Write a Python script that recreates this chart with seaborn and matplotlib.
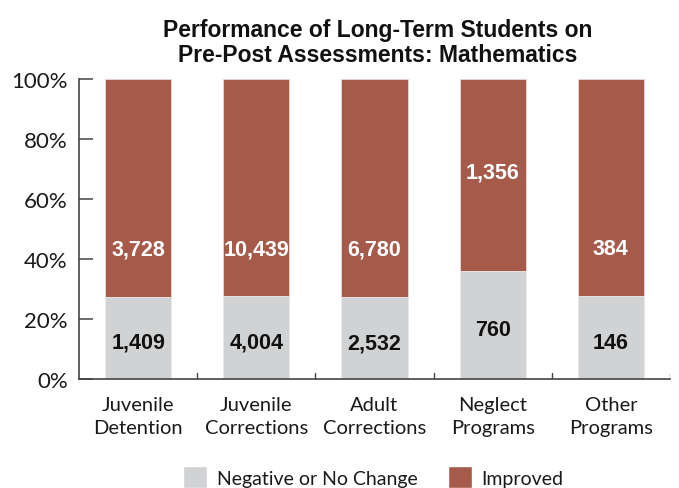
import matplotlib
matplotlib.use("Agg")
import matplotlib.pyplot as plt
import matplotlib.font_manager as fm
import seaborn as sns
import pandas as pd
import numpy as np
from matplotlib.patches import Patch

categories = ["Juvenile\nDetention", "Juvenile\nCorrections", "Adult\nCorrections", "Neglect\nPrograms", "Other\nPrograms"]
negative = [1409, 4004, 2532, 760, 146]
improved = [3728, 10439, 6780, 1356, 384]
improved_label_pct = [43.5, 43.5, 43.5, 69, 43.5]
yticks = [0, 20, 40, 60, 80, 100]

GREY = "#D1D2D4"
RED = "#A65A4A"
TXT = "#1a1a1a"

sns.set_theme(style="white")
names = {f.name for f in fm.fontManager.ttflist}
light_family = "Lato" if "Lato" in names else "DejaVu Sans"
title_family = "Liberation Sans Narrow" if "Liberation Sans Narrow" in names else "Liberation Sans"
plt.rcParams["font.family"] = [light_family, "DejaVu Sans"]

total = np.array(negative) + np.array(improved)
neg_pct = np.array(negative) / total * 100
tot_pct = (np.array(negative) + np.array(improved)) / total * 100
df = pd.DataFrame({"cat": categories, "neg": neg_pct, "tot": tot_pct})

fig = plt.figure(figsize=(6.79, 4.89), dpi=100)
ax = fig.add_axes([0.1163, 0.2229, 0.8704, 0.6135])

sns.barplot(data=df, x="cat", y="tot", color=RED, saturation=1, width=0.56, ax=ax,
            edgecolor="#e8d8d4", linewidth=0.6)
sns.barplot(data=df, x="cat", y="neg", color=GREY, saturation=1, width=0.56, ax=ax,
            edgecolor="#eeeeee", linewidth=0.6)

ax.set_xlim(-0.5, len(categories) - 0.5)
ax.set_ylim(0, 100)
ax.set_yticks(yticks)
ax.set_yticklabels([f"{t}%" for t in yticks], fontsize=16, fontweight="normal", color=TXT)
ax.set_xticks(range(len(categories)))
ax.set_xticklabels(categories, fontsize=14.5, fontweight="normal", color=TXT, linespacing=1.45)
ax.tick_params(axis="x", length=0, pad=12)
ax.tick_params(axis="y", direction="in", length=10, width=1.1, color="#444444", pad=8, left=True)
for b in np.arange(0.5, len(categories), 1.0):
    ax.axvline(b, ymin=0, ymax=0.02, color="#444444", lw=1.0)
ax.set_xlabel("")
ax.set_ylabel("")
for s in ["top", "right"]:
    ax.spines[s].set_visible(False)
for s in ["left", "bottom"]:
    ax.spines[s].set_color("#444444")
    ax.spines[s].set_linewidth(1.2)

for i in range(len(categories)):
    ax.text(i, neg_pct[i] / 2 - 1.5, f"{negative[i]:,}", ha="center", va="center",
            fontsize=15.5, fontweight="bold", color="#111111", family=["Liberation Sans", "DejaVu Sans"])
    ax.text(i, improved_label_pct[i], f"{improved[i]:,}", ha="center", va="center",
            fontsize=15.5, fontweight="bold", color="white", family=["Liberation Sans", "DejaVu Sans"])

fig.text(0.556, 0.962, "Performance of Long-Term Students on\nPre-Post Assessments: Mathematics",
         ha="center", va="top", fontsize=16.5, fontweight="bold", color="#111111",
         family=[title_family, "DejaVu Sans"], linespacing=1.15)

handles = [Patch(facecolor=GREY, label="Negative or No Change"), Patch(facecolor=RED, label="Improved")]
fig.legend(handles=handles, loc="lower center", bbox_to_anchor=(0.55, -0.035), ncol=2, frameon=False,
           handlelength=1.2, handleheight=1.3, columnspacing=1.6, handletextpad=0.5,
           prop={"family": [light_family, "DejaVu Sans"], "weight": "normal", "size": 14})
for t in fig.legends[0].get_texts():
    t.set_color(TXT)

fig.savefig("out.png", dpi=100)
